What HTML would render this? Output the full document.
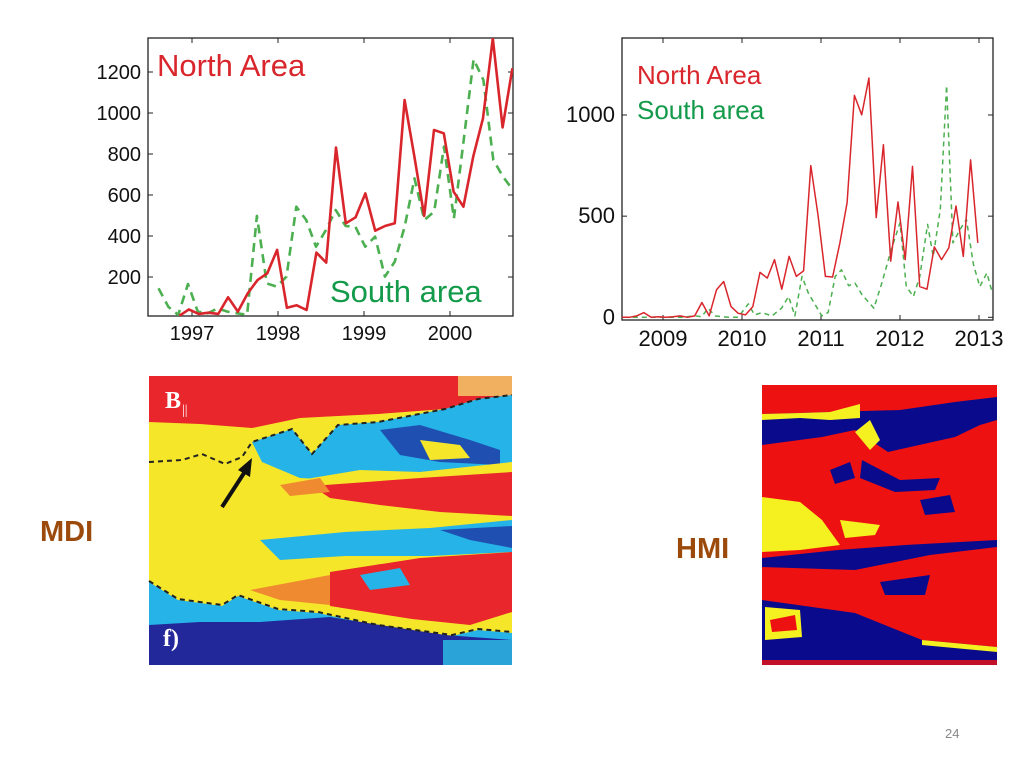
<!DOCTYPE html>
<html><head><meta charset="utf-8"><style>
html,body{margin:0;padding:0;background:#fff;}
svg{display:block;font-family:"Liberation Sans",Arial,sans-serif;}
</style></head><body>
<svg id="s" width="1024" height="768" viewBox="0 0 1024 768">
<g id="c1"></g>
<g id="c2"></g>

<g>
<rect x="149" y="376" width="363" height="289" fill="#f5e62a"/>
<path d="M149 376H512V395L478 399L445 409L378 414L338 416L300 418L252 428L200 424L149 422Z" fill="#e8262b"/>
<rect x="458" y="376" width="54" height="20" fill="#f0b060"/>
<path d="M252 442L292 429L312 454L338 425L378 422L445 409L478 399L512 395V470L470 470L420 472L380 475L340 480L300 478L262 462Z" fill="#26b3e8"/>
<path d="M380 430L420 425L470 440L500 450L500 465L440 462L400 455Z" fill="#1f4fb0"/>
<path d="M420 440L460 445L470 458L430 460Z" fill="#f5e62a"/>
<path d="M300 480L360 470L420 472L512 462V475L440 478L360 482Z" fill="#f5e62a"/>
<path d="M312 486L420 478L512 472V516L440 512L380 505L330 498Z" fill="#e8262b"/>
<path d="M280 485L320 478L330 492L290 496Z" fill="#f08a30"/>
<path d="M260 540L345 532L430 528L512 520V552L430 556L345 556L280 560Z" fill="#26b3e8"/>
<path d="M440 530L512 526V548L470 540Z" fill="#1f4fb0"/>
<path d="M330 572L420 558L512 552V612L470 625L412 619L330 606Z" fill="#e8262b"/>
<path d="M250 590L330 575L330 605L280 600Z" fill="#f08a30"/>
<path d="M360 575L400 568L410 585L370 590Z" fill="#26b3e8"/>
<path d="M149 582L178 600L222 606L238 596L278 610L318 613L378 626L452 636L478 630L512 633V665H149Z" fill="#26b3e8"/>
<path d="M149 625L200 622L260 622L330 617L380 625L445 635L512 640V665H149Z" fill="#22289a"/>
<rect x="443" y="640" width="69" height="25" fill="#2aa3d8"/>
<polyline points="149,462 182,460 202,454 225,464 242,457 252,442 292,429 312,454 338,425 378,422 445,409 478,399 512,395" fill="none" stroke="#222" stroke-width="2" stroke-dasharray="5,4"/>
<polyline points="149,581 178,599 222,605 238,595 278,609 318,612 378,625 452,635 478,629 512,632" fill="none" stroke="#222" stroke-width="2" stroke-dasharray="5,4"/>
<line x1="222" y1="507" x2="246" y2="470" stroke="#111" stroke-width="4"/>
<polygon points="252,458 238,470 250,477" fill="#111"/>
<text x="165" y="408" font-family="Liberation Serif,serif" font-weight="bold" font-size="24" fill="#fff">B</text>
<text x="182" y="414" font-family="Liberation Serif,serif" font-size="14" fill="#fff">||</text>
<text x="163" y="646" font-family="Liberation Serif,serif" font-weight="bold" font-size="24" fill="#fff">f)</text>
</g>

<g>
<rect x="762" y="385" width="235" height="280" fill="#0a0a8c"/>
<path d="M762 385H997V397L955 402L900 410L830 412L800 413L762 414Z" fill="#ee1111"/>
<path d="M762 414L800 413L830 412L860 404V418L830 420L800 418L762 420Z" fill="#f5f020"/>
<path d="M762 445L822 437L855 430L888 452L955 437L980 425L997 420V540L905 545L838 550L762 558Z" fill="#ee1111"/>
<path d="M855 432L870 420L880 440L870 450Z" fill="#f5f020"/>
<path d="M862 460L900 480L940 478L935 490L895 492L860 478Z" fill="#0a0a8c"/>
<path d="M830 470L850 462L855 478L835 484Z" fill="#0a0a8c"/>
<path d="M920 500L950 495L955 512L925 515Z" fill="#0a0a8c"/>
<path d="M762 497L800 502L822 520L840 545L800 550L762 552Z" fill="#f5f020"/>
<path d="M840 520L880 525L875 535L845 538Z" fill="#f5f020"/>
<path d="M762 567L855 570L930 555L997 547V647L922 640L855 613L762 600Z" fill="#ee1111"/>
<path d="M880 582L930 575L925 595L885 595Z" fill="#0a0a8c"/>
<path d="M922 640L997 647V652L922 645Z" fill="#f5f020"/>
<path d="M765 607L800 610L802 637L765 640Z" fill="#f5f020"/>
<path d="M770 620L795 615L797 630L772 632Z" fill="#ee1111"/>
<rect x="762" y="660" width="235" height="5" fill="#c0102a"/>
</g>

<text x="40" y="541" font-size="29" font-weight="bold" fill="#9c4a0c">MDI</text>
<text x="676" y="558" font-size="29" font-weight="bold" fill="#9c4a0c">HMI</text>
<text x="945" y="738" font-size="13" fill="#888">24</text>
</svg>
<script>
// ---- Left chart data ----
const L_yTicks = [200,400,600,800,1000,1200];
const L_xTicks = [1997,1998,1999,2000];
const L_northStart = 1996.85, L_northStep = 0.114;
const L_north = [10,42,20,26,20,101,31,120,185,218,332,50,62,39,319,270,831,462,491,608,426,449,462,1063,787,498,917,901,616,543,787,974,1364,930,1218];
const L_southStart = 1996.61, L_southStep = 0.1145;
const L_south = [145,55,15,166,31,23,47,31,23,15,498,169,153,202,543,478,348,429,527,449,445,348,397,202,275,445,681,478,519,836,486,868,1262,1161,771,689,624];

// ---- Right chart data ----
const R_yTicks = [0,500,1000];
const R_xTicks = [2009,2010,2011,2012,2013];
const R_northStart = 2008.39, R_northStep = 0.0919;
const R_north = [0,0,0,7,23,0,3,0,3,7,0,7,73,7,136,177,53,20,12,53,222,194,285,139,301,202,230,750,502,202,199,368,567,1097,1001,1183,493,853,278,570,285,746,152,139,348,285,343,550,301,778,368];
const R_southT = [2008.39,2008.81,2009.24,2009.41,2009.49,2009.57,2009.66,2009.74,2009.83,2009.95,2010.08,2010.16,2010.25,2010.38,2010.50,2010.59,2010.67,2010.76,2010.84,2011.01,2011.09,2011.18,2011.26,2011.35,2011.43,2011.52,2011.67,2011.77,2011.89,2012.0,2012.08,2012.17,2012.25,2012.35,2012.42,2012.51,2012.59,2012.67,2012.76,2012.84,2012.93,2013.01,2013.10,2013.17];
const R_south = [0,0,0,7,3,45,7,3,0,0,66,12,23,7,45,103,7,202,119,7,23,202,235,156,169,111,45,169,335,467,152,103,202,459,301,533,1146,368,434,484,260,152,219,119];

const NS='http://www.w3.org/2000/svg';
function mk(p,tag,attrs){const e=document.createElementNS(NS,tag);for(const k in attrs)e.setAttribute(k,attrs[k]);p.appendChild(e);return e;}

function chart(g,o){
  const X=v=>o.x0+(v-o.xa)*o.xs, Y=v=>o.y0-v*o.ys;
  const box=mk(g,'rect',{x:o.L,y:o.T,width:o.R-o.L,height:o.B-o.T,fill:'none',stroke:'#222','stroke-width':1.3});
  
  
  o.yt.forEach(v=>{
    const y=Y(v);
    mk(g,'line',{x1:o.L,x2:o.L+5,y1:y,y2:y,stroke:'#222'});
    mk(g,'line',{x1:o.R,x2:o.R-5,y1:y,y2:y,stroke:'#222'});
    const t=mk(g,'text',{x:o.L-7,y:y+7,'text-anchor':'end','font-size':o.fs,fill:'#111'});t.textContent=v;
    
    
  });
  o.xt.forEach(v=>{
    const x=X(v);
    mk(g,'line',{x1:x,x2:x,y1:o.B,y2:o.B-5,stroke:'#222'});
    mk(g,'line',{x1:x,x2:x,y1:o.T,y2:o.T+5,stroke:'#222'});
    const t=mk(g,'text',{x:x,y:o.B+o.fs+4,'text-anchor':'middle','font-size':o.fs,fill:'#111'});t.textContent=v;
    
    
  });
  const clip=mk(g,'clipPath',{id:g.id+'clip'});mk(clip,'rect',{x:o.L,y:o.T,width:o.R-o.L,height:o.B-o.T});
  o.series.forEach(s=>{
    const pts=s.v.map((v,i)=>X(s.t?s.t[i]:s.t0+i*s.dt).toFixed(1)+','+Y(v).toFixed(1)).join(' ');
    const pl=mk(g,'polyline',{points:pts,fill:'none',stroke:s.c,'stroke-width':s.w,'stroke-dasharray':s.d||'none','clip-path':'url(#'+g.id+'clip)','stroke-linejoin':'round'});
    
    
  });
}
chart(document.getElementById('c1'),{L:148,R:513,T:38,B:316,x0:192,xa:1997,xs:86,y0:318,ys:0.205,fs:20,yt:L_yTicks,xt:L_xTicks,
  series:[{name:'south-area-line',v:L_south,t0:L_southStart,dt:L_southStep,c:'#4caf50',w:2.6,d:'9,6'},
          {name:'north-area-line',v:L_north,t0:L_northStart,dt:L_northStep,c:'#d9262c',w:2.6}]});
chart(document.getElementById('c2'),{L:622,R:993,T:38,B:320,x0:663,xa:2009,xs:79,y0:317.3,ys:0.2023,fs:22,yt:R_yTicks,xt:R_xTicks,
  series:[{name:'south-area-line',v:R_south,t:R_southT,c:'#4caf50',w:1.5,d:'5,4'},
          {name:'north-area-line',v:R_north,t0:R_northStart,dt:R_northStep,c:'#d9262c',w:1.5}]});
function label(id,x,y,fs,c,txt,name){const t=mk(document.getElementById(id),'text',{x:x,y:y,'font-size':fs,fill:c});t.textContent=txt;
  
  }
label('c1',157,76,31,'#d9262c','North Area','legend-north');
label('c1',330,302,31,'#139a4a','South area','legend-south');
label('c2',637,84,26,'#d9262c','North Area','legend-north');
label('c2',637,119,26,'#139a4a','South area','legend-south');
</script>
</body></html>
